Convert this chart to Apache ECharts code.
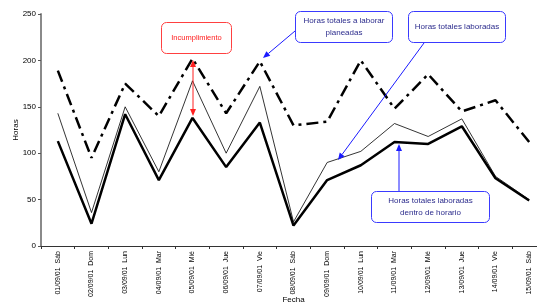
<!DOCTYPE html>
<html>
<head>
<meta charset="utf-8">
<script src="https://cdn.jsdelivr.net/npm/echarts@6/dist/echarts.min.js"></script>
<style>
html,body{margin:0;padding:0;background:#fff;}
#c{width:537px;height:303px;}
</style>
</head>
<body>
<div id="c"></div>
<script>
var categories = ['01/09/01  Sáb','02/09/01  Dom','03/09/01  Lun','04/09/01  Mar','05/09/01  Mié','06/09/01  Jue','07/09/01  Vie','08/09/01  Sáb','09/09/01  Dom','10/09/01  Lun','11/09/01  Mar','12/09/01  Mié','13/09/01  Jue','14/09/01  Vie','15/09/01  Sáb'];
var planeadas = [189, 95, 175, 140, 202, 143, 199, 130, 134, 200, 148, 185, 145, 157, 112];
var laboradas = [143, 36, 150, 80, 178, 100, 172, 26, 90, 102, 132, 118, 137, 75, 50];
var dentroHorario = [113, 24, 142, 71, 138, 85, 133, 22, 71, 87, 112, 110, 129, 73, 49];
var yTicks = {min: 0, max: 250, interval: 50};

var FONT = 'Liberation Sans';
var chart = echarts.init(document.getElementById('c'));

function box(x, y, w, h, color) {
  return {type: 'rect', shape: {x: x, y: y, width: w, height: h, r: 5},
    style: {fill: '#fff', stroke: color, lineWidth: 1}, z: 100};
}
function txt(x, y, t, color, size) {
  return {type: 'text', x: x, y: y, z: 101,
    style: {text: t, fill: color, font: (size || 8) + 'px "' + FONT + '"', align: 'center', verticalAlign: 'middle', lineHeight: 12}};
}
function arrow(x1, y1, x2, y2, color, hs) {
  var a = Math.atan2(y2 - y1, x2 - x1);
  var L = hs || 7, W = 3;
  var bx = x2 - L * Math.cos(a), by = y2 - L * Math.sin(a);
  var px = -Math.sin(a) * W, py = Math.cos(a) * W;
  return [
    {type: 'line', shape: {x1: x1, y1: y1, x2: bx, y2: by}, style: {stroke: color, lineWidth: 1}, z: 100},
    {type: 'polygon', shape: {points: [[x2, y2], [bx + px, by + py], [bx - px, by - py]]}, style: {fill: color}, z: 100}
  ];
}

var blueBorder = '#3a3aff', blueText = '#2b2b8c', blueLine = '#1a1aff', red = '#ff2020';
var graphics = [];
graphics.push(box(161.5, 22.5, 70, 31, '#ff4040'));
graphics.push(txt(196.5, 38, 'Incumplimiento', red, 7.5));
graphics = graphics.concat(arrow(193, 88, 193, 60, red, 7));
graphics = graphics.concat(arrow(193, 88, 193, 116, red, 7));

graphics.push(box(295.5, 11.5, 97, 31, blueBorder));
graphics.push(txt(344, 27, 'Horas totales a laborar\nplaneadas', blueText));
graphics = graphics.concat(arrow(295, 31, 263, 58, blueLine, 7));

graphics.push(box(408.5, 11.5, 97, 31, blueBorder));
graphics.push(txt(457, 27, 'Horas totales laboradas', blueText));
graphics = graphics.concat(arrow(424, 43, 338, 160, blueLine, 7));

graphics.push(box(371.5, 191.5, 118, 31, blueBorder));
graphics.push(txt(430.5, 207, 'Horas totales laboradas\ndentro de horario', blueText));
graphics = graphics.concat(arrow(399, 191, 399, 144, blueLine, 7));

chart.setOption({
  animation: false,
  textStyle: {fontFamily: FONT},
  grid: {left: 41, right: -9, top: 14, bottom: 57, containLabel: false, outerBoundsMode: 'none'},
  xAxis: {
    type: 'category', data: categories, boundaryGap: true,
    name: 'Fecha', nameLocation: 'middle', nameGap: 50, nameMoveOverlap: false,
    nameTextStyle: {fontSize: 8, color: '#000', fontFamily: FONT},
    axisLine: {lineStyle: {color: '#333', width: 1}},
    axisTick: {show: true, length: 3, lineStyle: {color: '#333'}, alignWithLabel: false},
    axisLabel: {rotate: 90, fontSize: 7, color: '#000', margin: 5, fontFamily: FONT, interval: 0}
  },
  yAxis: {
    type: 'value', min: yTicks.min, max: yTicks.max, interval: yTicks.interval,
    name: 'Horas', nameLocation: 'middle', nameGap: 21, nameMoveOverlap: false,
    nameTextStyle: {fontSize: 8, color: '#000', fontFamily: FONT},
    axisLine: {show: true, lineStyle: {color: '#8a8a8a', width: 2}},
    axisTick: {show: true, length: 3, lineStyle: {color: '#555'}},
    splitLine: {show: false},
    axisLabel: {fontSize: 8, color: '#000', margin: 5, fontFamily: FONT}
  },
  series: [
    {name: 'Horas totales a laborar planeadas', type: 'line', data: planeadas, symbol: 'none',
      lineStyle: {color: '#000', width: 2.5, type: [12, 5, 3, 5]}, z: 3},
    {name: 'Horas totales laboradas', type: 'line', data: laboradas, symbol: 'none',
      lineStyle: {color: '#000', width: 0.8}, z: 2},
    {name: 'Horas totales laboradas dentro de horario', type: 'line', data: dentroHorario, symbol: 'none',
      lineStyle: {color: '#000', width: 2.5}, z: 4}
  ],
  graphic: graphics
});
</script>
</body>
</html>
